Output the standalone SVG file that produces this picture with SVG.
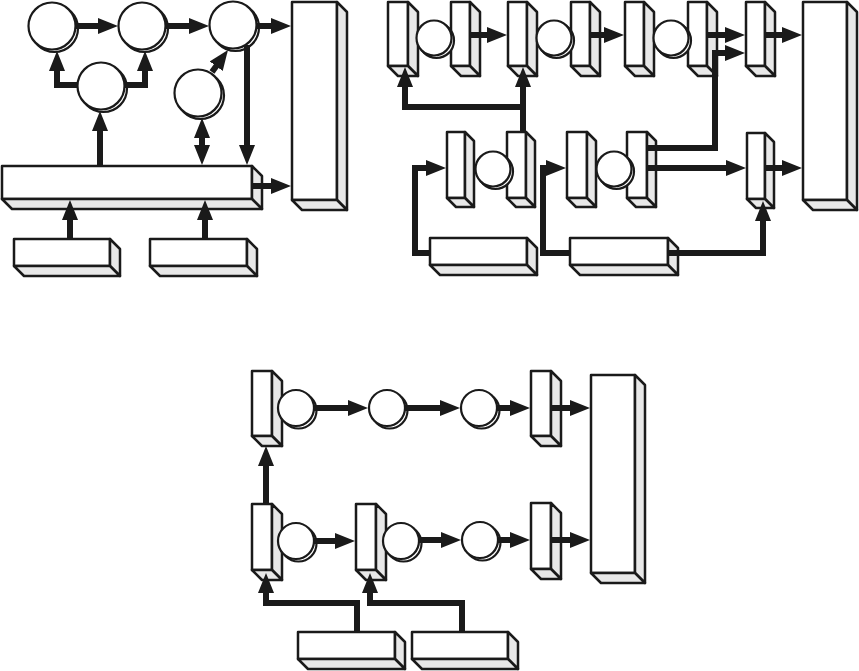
<svg xmlns="http://www.w3.org/2000/svg" width="859" height="671" viewBox="0 0 859 671">
<style>
.f{fill:#fff;stroke:#1a1a1a;stroke-width:2.5;stroke-linejoin:round}
.s{fill:#e8e8e8;stroke:#1a1a1a;stroke-width:2.5;stroke-linejoin:round}
.c{fill:#fff;stroke:#1a1a1a;stroke-width:2.2}
.k{fill:none;stroke:#1a1a1a;stroke-width:6;marker-end:url(#ah)}
.k2{marker-start:url(#ah)}
</style>
<defs>
<marker id="ah" viewBox="0 0 20 16" refX="10" refY="8" markerWidth="20" markerHeight="16" markerUnits="userSpaceOnUse" orient="auto-start-reverse"><path d="M0,0 L20,8 L0,16 z" fill="#1a1a1a"/></marker>
</defs>
<rect width="859" height="671" fill="#fff"/>
<!-- Diagram 1 -->
<g id="big1"><rect class="f" x="292" y="2" width="45" height="198"/><polygon class="s" points="337,2 347,12 347,210 337,200"/><polygon class="s" points="292,200 337,200 347,210 302,210"/></g>
<g id="bar"><rect class="f" x="2" y="166" width="250" height="33"/><polygon class="s" points="252,166 262,176 262,209 252,199"/><polygon class="s" points="2,199 252,199 262,209 12,209"/></g>
<g id="sA"><rect class="f" x="14" y="239" width="96" height="27"/><polygon class="s" points="110,239 120,249 120,276 110,266"/><polygon class="s" points="14,266 110,266 120,276 24,276"/></g>
<g id="sB"><rect class="f" x="150" y="239" width="97" height="27"/><polygon class="s" points="247,239 257,249 257,276 247,266"/><polygon class="s" points="150,266 247,266 257,276 160,276"/></g>
<g id="c1"><circle class="c" cx="54.5" cy="28.5" r="23.5"/><circle class="c" cx="52" cy="26" r="23.5"/></g>
<g id="c2"><circle class="c" cx="144.5" cy="28.5" r="23.5"/><circle class="c" cx="142" cy="26" r="23.5"/></g>
<g id="c3"><circle class="c" cx="103.5" cy="88.5" r="23.5"/><circle class="c" cx="101" cy="86" r="23.5"/></g>
<g id="c4"><circle class="c" cx="235.5" cy="27.5" r="23.5"/><circle class="c" cx="233" cy="25" r="23.5"/></g>
<g id="c5"><circle class="c" cx="200.5" cy="95.5" r="23.5"/><circle class="c" cx="198" cy="93" r="23.5"/></g>
<!-- Diagram 2 -->
<g id="R1"><rect class="f" x="388" y="2" width="20" height="64"/><polygon class="s" points="408,2 418,12 418,76 408,66"/><polygon class="s" points="388,66 408,66 418,76 398,76"/></g>
<g id="R2"><rect class="f" x="451" y="2" width="19" height="64"/><polygon class="s" points="470,2 480,12 480,76 470,66"/><polygon class="s" points="451,66 470,66 480,76 461,76"/></g>
<g id="R3"><rect class="f" x="508" y="2" width="19" height="64"/><polygon class="s" points="527,2 537,12 537,76 527,66"/><polygon class="s" points="508,66 527,66 537,76 518,76"/></g>
<g id="R4"><rect class="f" x="571" y="2" width="19" height="64"/><polygon class="s" points="590,2 600,12 600,76 590,66"/><polygon class="s" points="571,66 590,66 600,76 581,76"/></g>
<g id="R5"><rect class="f" x="625" y="2" width="19" height="64"/><polygon class="s" points="644,2 654,12 654,76 644,66"/><polygon class="s" points="625,66 644,66 654,76 635,76"/></g>
<g id="R6"><rect class="f" x="688" y="2" width="19" height="64"/><polygon class="s" points="707,2 717,12 717,76 707,66"/><polygon class="s" points="688,66 707,66 717,76 698,76"/></g>
<g id="R7"><rect class="f" x="746" y="2" width="19" height="64"/><polygon class="s" points="765,2 775,12 775,76 765,66"/><polygon class="s" points="746,66 765,66 775,76 756,76"/></g>
<g id="bigR"><rect class="f" x="803" y="2" width="44" height="198"/><polygon class="s" points="847,2 857,12 857,210 847,200"/><polygon class="s" points="803,200 847,200 857,210 813,210"/></g>
<g id="rc1"><circle class="c" cx="436.5" cy="40.5" r="17.5"/><circle class="c" cx="434" cy="38" r="17.5"/></g>
<g id="rc2"><circle class="c" cx="556.5" cy="40.5" r="17.5"/><circle class="c" cx="554" cy="38" r="17.5"/></g>
<g id="rc3"><circle class="c" cx="673.5" cy="40.5" r="17.5"/><circle class="c" cx="671" cy="38" r="17.5"/></g>
<g id="L1"><rect class="f" x="447" y="132" width="18" height="66"/><polygon class="s" points="465,132 474,141 474,207 465,198"/><polygon class="s" points="447,198 465,198 474,207 456,207"/></g>
<g id="L2"><rect class="f" x="507" y="132" width="19" height="66"/><polygon class="s" points="526,132 535,141 535,207 526,198"/><polygon class="s" points="507,198 526,198 535,207 516,207"/></g>
<g id="L3"><rect class="f" x="567" y="132" width="20" height="66"/><polygon class="s" points="587,132 596,141 596,207 587,198"/><polygon class="s" points="567,198 587,198 596,207 576,207"/></g>
<g id="L4"><rect class="f" x="627" y="132" width="20" height="66"/><polygon class="s" points="647,132 656,141 656,207 647,198"/><polygon class="s" points="627,198 647,198 656,207 636,207"/></g>
<g id="L5"><rect class="f" x="747" y="133" width="18" height="66"/><polygon class="s" points="765,133 774,142 774,208 765,199"/><polygon class="s" points="747,199 765,199 774,208 756,208"/></g>
<g id="lc1"><circle class="c" cx="495.5" cy="171.5" r="17.5"/><circle class="c" cx="493" cy="169" r="17.5"/></g>
<g id="lc2"><circle class="c" cx="616.5" cy="171.5" r="17.5"/><circle class="c" cx="614" cy="169" r="17.5"/></g>
<g id="B1"><rect class="f" x="430" y="238" width="97" height="27"/><polygon class="s" points="527,238 537,248 537,275 527,265"/><polygon class="s" points="430,265 527,265 537,275 440,275"/></g>
<g id="B2"><rect class="f" x="570" y="238" width="98" height="27"/><polygon class="s" points="668,238 678,248 678,275 668,265"/><polygon class="s" points="570,265 668,265 678,275 580,275"/></g>
<!-- Diagram 3 -->
<g id="M1"><rect class="f" x="252" y="371" width="20" height="65"/><polygon class="s" points="272,371 282,381 282,446 272,436"/><polygon class="s" points="252,436 272,436 282,446 262,446"/></g>
<g id="M3"><rect class="f" x="531" y="371" width="20" height="65"/><polygon class="s" points="551,371 561,381 561,446 551,436"/><polygon class="s" points="531,436 551,436 561,446 541,446"/></g>
<g id="M4"><rect class="f" x="252" y="504" width="20" height="66"/><polygon class="s" points="272,504 282,514 282,580 272,570"/><polygon class="s" points="252,570 272,570 282,580 262,580"/></g>
<g id="M5"><rect class="f" x="356" y="504" width="20" height="66"/><polygon class="s" points="376,504 386,514 386,580 376,570"/><polygon class="s" points="356,570 376,570 386,580 366,580"/></g>
<g id="M6"><rect class="f" x="531" y="503" width="20" height="66"/><polygon class="s" points="551,503 561,513 561,579 551,569"/><polygon class="s" points="531,569 551,569 561,579 541,579"/></g>
<g id="bigM"><rect class="f" x="591" y="375" width="44" height="198"/><polygon class="s" points="635,375 645,385 645,583 635,573"/><polygon class="s" points="591,573 635,573 645,583 601,583"/></g>
<g id="N1"><rect class="f" x="298" y="632" width="97" height="27"/><polygon class="s" points="395,632 405,642 405,669 395,659"/><polygon class="s" points="298,659 395,659 405,669 308,669"/></g>
<g id="N2"><rect class="f" x="412" y="632" width="96" height="27"/><polygon class="s" points="508,632 518,642 518,669 508,659"/><polygon class="s" points="412,659 508,659 518,669 422,669"/></g>
<g id="mc1"><circle class="c" cx="298.5" cy="410.5" r="18"/><circle class="c" cx="296" cy="408" r="18"/></g>
<g id="mc2"><circle class="c" cx="389.5" cy="410.5" r="18"/><circle class="c" cx="387" cy="408" r="18"/></g>
<g id="mc3"><circle class="c" cx="481.5" cy="410.5" r="18"/><circle class="c" cx="479" cy="408" r="18"/></g>
<g id="mc4"><circle class="c" cx="298.5" cy="543.5" r="18"/><circle class="c" cx="296" cy="541" r="18"/></g>
<g id="mc5"><circle class="c" cx="403.5" cy="543.5" r="18"/><circle class="c" cx="401" cy="541" r="18"/></g>
<g id="mc6"><circle class="c" cx="482.5" cy="542.5" r="18"/><circle class="c" cx="480" cy="540" r="18"/></g>
<!-- Connectors -->
<g id="connectors">
<path class="k" d="M76,26 H108"/>
<path class="k" d="M166,26 H199"/>
<path class="k" d="M257,26 H281"/>
<path class="k" d="M78,85 H57 V61"/>
<path class="k" d="M124,85 H145 V61"/>
<path class="k" d="M100,166 V121"/>
<path class="k" d="M212,72 L222.1,58.1"/>
<path class="k" d="M247,45 V155"/>
<path class="k k2" d="M202,128 V155"/>
<path class="k" d="M253,186 H281"/>
<path class="k" d="M70,239 V210"/>
<path class="k" d="M205,239 V210"/>
<path class="k" d="M470,35 H497"/>
<path class="k" d="M590,35 H614"/>
<path class="k" d="M707,35 H735"/>
<path class="k" d="M765,35 H792"/>
<path class="k" d="M647,148 H715 V53 H735"/>
<path class="k" d="M647,168 H736"/>
<path class="k" d="M765,168 H792"/>
<path class="k" d="M523,132 V77"/>
<path class="k" d="M523,107 H405 V77"/>
<path class="k" d="M430,253 H415 V168 H436"/>
<path class="k" d="M570,253 H543 V168 H556"/>
<path class="k" d="M668,253 H763 V211"/>
<path class="k" d="M266,504 V456"/>
<path class="k" d="M314,408 H358"/>
<path class="k" d="M405,408 H450"/>
<path class="k" d="M497,408 H520"/>
<path class="k" d="M551,408 H580"/>
<path class="k" d="M314,541 H345"/>
<path class="k" d="M419,540 H451"/>
<path class="k" d="M498,540 H520"/>
<path class="k" d="M551,540 H580"/>
<path class="k" d="M357,632 V603 H266 V583"/>
<path class="k" d="M462,632 V603 H370 V583"/>
</g>
</svg>
